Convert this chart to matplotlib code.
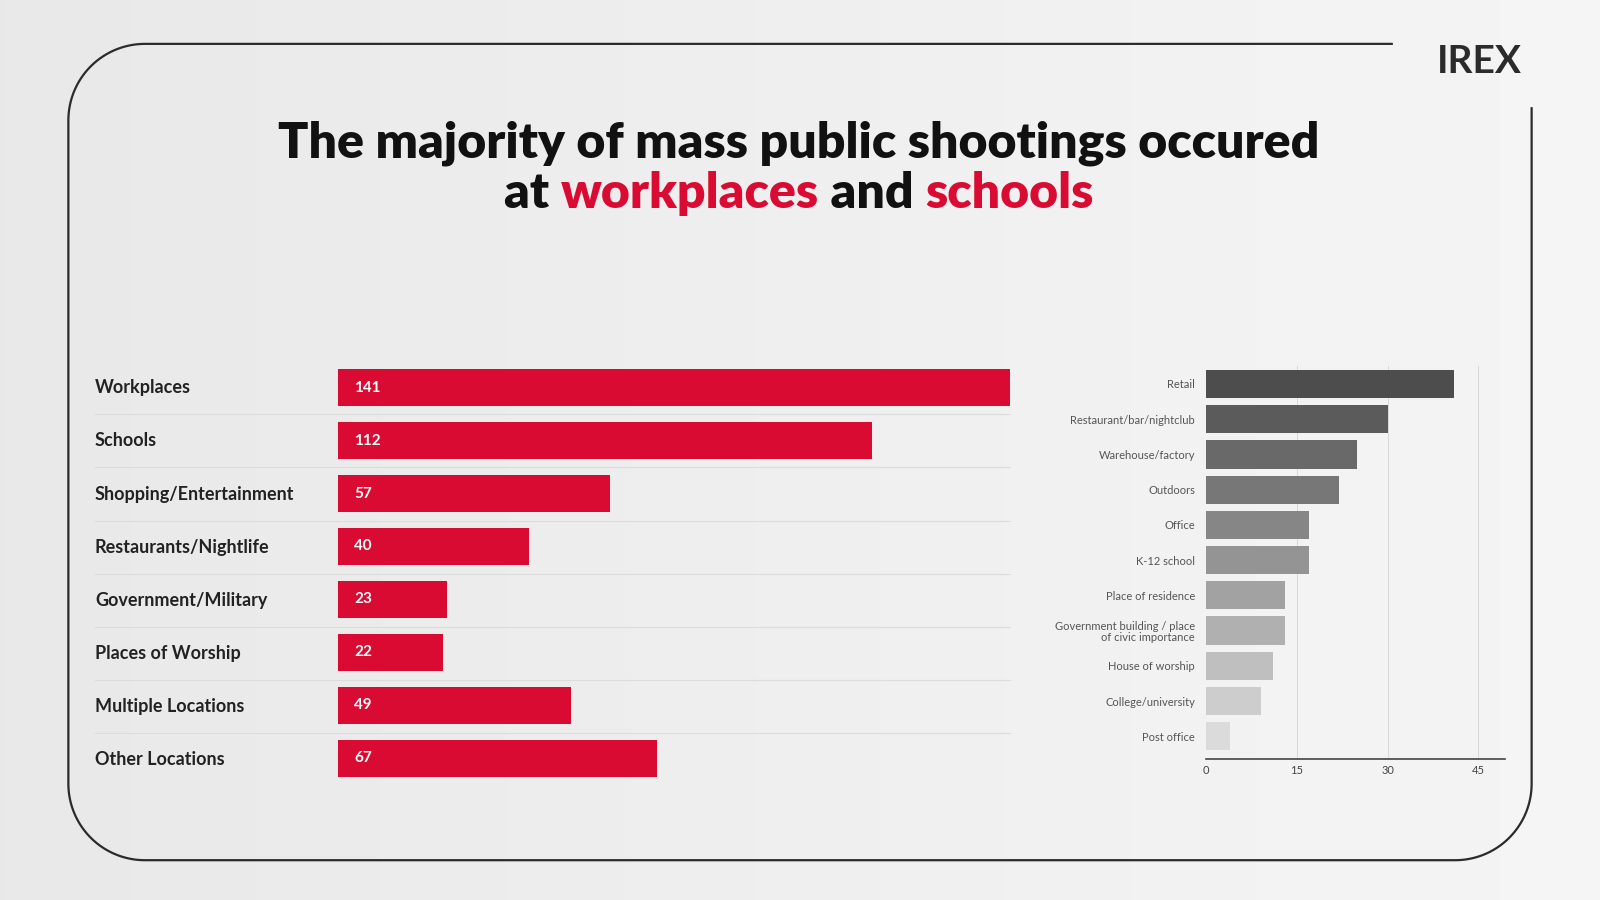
import numpy as np
import matplotlib.pyplot as plt

# data
main_cats = ["Workplaces", "Schools", "Shopping/Entertainment", "Restaurants/Nightlife",
             "Government/Military", "Places of Worship", "Multiple Locations", "Other Locations"]
main_vals = [141, 112, 57, 40, 23, 22, 49, 67]

sub_cats = ["Retail", "Restaurant/bar/nightclub", "Warehouse/factory", "Outdoors", "Office",
            "K-12 school", "Place of residence", "Government building / place\nof civic importance",
            "House of worship", "College/university", "Post office"]
sub_vals = [41, 30, 25, 22, 17, 17, 13, 13, 11, 9, 4]
sub_ticks = [0, 15, 30, 45]

W, H = 1568, 882
RED = "#d90b32"
FONT = "Lato"

fig = plt.figure(figsize=(16, 9), dpi=100)

def pos(x0, y0, x1, y1):
    return [x0 / W, 1 - y1 / H, (x1 - x0) / W, (y1 - y0) / H]

# background gradient
bg = fig.add_axes([0, 0, 1, 1])
g = np.linspace(0, 1, 256)
grad = 0.91 + 0.05 * np.outer(np.ones(256), g)
bg.imshow(grad, cmap="gray", vmin=0, vmax=1, aspect="auto", extent=[0, W, H, 0])
bg.set_xlim(0, W)
bg.set_ylim(H, 0)
bg.axis("off")

# frame (screen coords, y down)
r = 75
x0, y0, x1, y1 = 67, 43, 1501, 843
def corner(cx, cy, a0, a1):
    t = np.radians(np.linspace(a0, a1, 40))
    return cx + r * np.cos(t), cy - r * np.sin(t)
xs, ys_ = [1365.0], [float(y0)]
for cx, cy, a0, a1 in [(x0 + r, y0 + r, 90, 180), (x0 + r, y1 - r, 180, 270),
                       (x1 - r, y1 - r, 270, 360)]:
    px, py = corner(cx, cy, a0, a1)
    xs += list(px)
    ys_ += list(py)
xs.append(x1)
ys_.append(105)
bg.plot(xs, ys_, color="#2b2b2b", lw=1.6, solid_capstyle="butt")

# logo
bg.text(1450, 60, "IREX", fontsize=28, fontweight="bold", family=FONT, color="#2b2b2b",
        ha="center", va="center")

# title
TS = 36
bg.text(783, 140, "The majority of mass public shootings occured", fontsize=TS,
        fontweight="heavy", family=FONT, color="#111111", ha="center", va="center")
parts = [("at ", "#111111"), ("workplaces", RED), (" and ", "#111111"), ("schools", RED)]
fig.canvas.draw()
rend = fig.canvas.get_renderer()
texts = []
for s, c in parts:
    t = bg.text(0, 190, s, fontsize=TS, fontweight="heavy", family=FONT, color=c,
                ha="left", va="center")
    texts.append(t)
scale = W / fig.bbox.width
widths = [t.get_window_extent(rend).width * scale for t in texts]
total = sum(widths)
x = 783 - total / 2
for t, w in zip(texts, widths):
    t.set_x(x)
    x += w

# main chart
ax = fig.add_axes(pos(331, 354, 990, 769))
y = np.arange(len(main_cats))
ax.barh(y, main_vals, height=0.7, color=RED)
ax.set_xlim(0, 141)
ax.set_ylim(len(main_cats) - 0.5, -0.5)
ax.axis("off")
for i, v in enumerate(main_vals):
    ax.text(3.4, i, str(v), color="white", fontsize=11, family=FONT, fontweight="bold",
            va="center", ha="left")
for i, c in enumerate(main_cats):
    bg.text(93, 380 + i * 52.1, c, fontsize=13, family=FONT, fontweight="bold",
            color="#222222", va="center", ha="left")
    if i < len(main_cats) - 1:
        bg.plot([93, 990], [406 + i * 52.1] * 2, color="#dcdcdc", lw=0.8)

# sub chart
ax2 = fig.add_axes(pos(1182, 359, 1475, 744))
ys = np.arange(len(sub_cats))
shades = np.linspace(0.30, 0.86, len(sub_cats))
ax2.barh(ys, sub_vals, height=0.8, color=[str(s) for s in shades])
ax2.set_xlim(0, (1475 - 1182) / 5.93)
ax2.set_ylim(len(sub_cats) - 0.35, -0.5)
for t in sub_ticks[1:]:
    ax2.axvline(t, color="#d8d8d8", lw=0.7, zorder=0)
ax2.set_facecolor("none")
for s in ["top", "right", "left"]:
    ax2.spines[s].set_visible(False)
ax2.spines["bottom"].set_color("#444444")
ax2.spines["bottom"].set_linewidth(1.2)
ax2.set_xticks(sub_ticks)
ax2.set_xticklabels([str(t) for t in sub_ticks], fontsize=8, family=FONT, color="#444444")
ax2.tick_params(axis="x", length=0, pad=4)
ax2.set_yticks(ys)
ax2.set_yticklabels(sub_cats, fontsize=8, family=FONT, color="#555555", linespacing=1.0)
ax2.tick_params(axis="y", length=0, pad=8)

fig.savefig("out.png", dpi=100)
